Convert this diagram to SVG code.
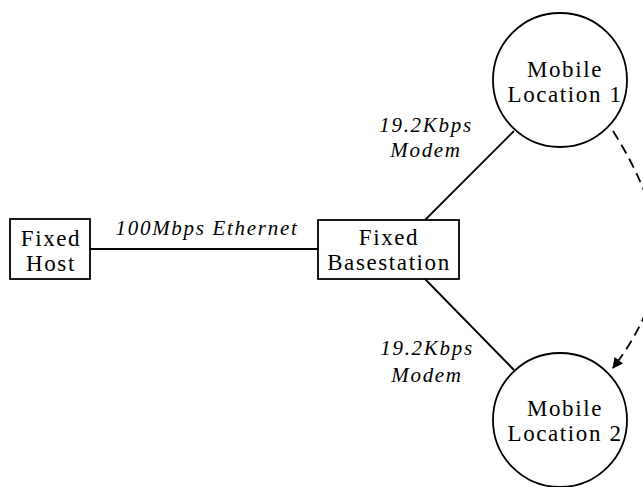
<svg xmlns="http://www.w3.org/2000/svg" width="643" height="487" viewBox="0 0 643 487">
<defs>
<style>
.n{fill:#fff;stroke:#000;stroke-width:1.8}
.t{font-family:"Liberation Serif",serif;font-size:23px;letter-spacing:1.6px;text-anchor:middle;fill:#000}
.l{font-family:"Liberation Serif",serif;font-style:italic;font-size:21px;letter-spacing:1.7px;text-anchor:middle;fill:#000}
.e{fill:none;stroke:#000;stroke-width:1.8}
</style>
<marker id="ah" viewBox="0 0 10 10" refX="9" refY="5" markerWidth="7" markerHeight="6" orient="auto" markerUnits="strokeWidth">
<path d="M0,0 L10,5 L0,10 z" fill="#000"/>
</marker>
</defs>
<rect width="643" height="487" fill="#fff"/>
<g id="connectors">
<line class="e" x1="90" y1="249" x2="318" y2="249"/>
<line class="e" x1="425" y1="220" x2="514" y2="131"/>
<line class="e" x1="425" y1="279" x2="514" y2="370"/>
<path class="e" d="M613,131 C672,225 672,290 613,368" stroke-dasharray="10,6" marker-end="url(#ah)"/>
<text class="l" x="207" y="235">100Mbps Ethernet</text>
<text class="l" x="426" y="132">19.2Kbps</text>
<text class="l" x="426" y="157">Modem</text>
<text class="l" x="427" y="355">19.2Kbps</text>
<text class="l" x="427" y="382">Modem</text>
</g>
<g id="fixed-host">
<rect class="n" x="10" y="219" width="80" height="60"/>
<text class="t" x="51" y="246">Fixed</text>
<text class="t" x="51" y="271">Host</text>
</g>
<g id="fixed-basestation">
<rect class="n" x="318" y="220" width="141" height="59"/>
<text class="t" x="389" y="245">Fixed</text>
<text class="t" x="389" y="270">Basestation</text>
</g>
<g id="mobile-location-1">
<circle class="n" cx="560" cy="80" r="67"/>
<text class="t" x="565" y="77">Mobile</text>
<text class="t" x="565" y="102">Location 1</text>
</g>
<g id="mobile-location-2">
<circle class="n" cx="560" cy="420" r="67"/>
<text class="t" x="565" y="416">Mobile</text>
<text class="t" x="565" y="441">Location 2</text>
</g>
</svg>
